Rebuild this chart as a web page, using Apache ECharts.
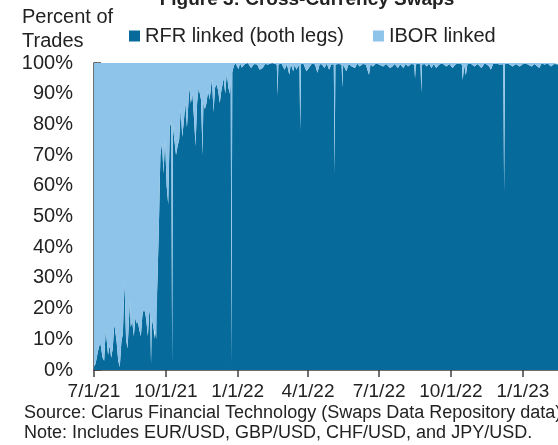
<!DOCTYPE html>
<html>
<head>
<meta charset="utf-8">
<script src="https://cdn.jsdelivr.net/npm/echarts@6/dist/echarts.min.js"></script>
<style>
html,body{margin:0;padding:0;background:#fff;}
#chart{width:558px;height:445px;}
</style>
</head>
<body>
<div id="chart"></div>
<script>
// ---- data ----
const dates = [
'2021-07-01','2021-07-03','2021-07-06','2021-07-09','2021-07-12','2021-07-14','2021-07-16','2021-07-19','2021-07-21','2021-07-23',
'2021-07-25','2021-07-27','2021-07-30','2021-08-01','2021-08-03','2021-08-05','2021-08-07','2021-08-09','2021-08-11','2021-08-13',
'2021-08-16','2021-08-17','2021-08-19','2021-08-21','2021-08-23','2021-08-25','2021-08-26','2021-08-28','2021-08-30','2021-09-01',
'2021-09-03','2021-09-05','2021-09-06','2021-09-08','2021-09-10','2021-09-11','2021-09-12','2021-09-13','2021-09-15','2021-09-17',
'2021-09-19','2021-09-20','2021-09-22','2021-09-24','2021-09-26','2021-09-28','2021-09-30','2021-10-02','2021-10-04','2021-10-06',
'2021-10-08','2021-10-09','2021-10-10','2021-10-11','2021-10-14','2021-10-16','2021-10-18','2021-10-20','2021-10-22','2021-10-24',
'2021-10-26','2021-10-28','2021-10-31','2021-11-02','2021-11-04','2021-11-06','2021-11-08','2021-11-10','2021-11-12','2021-11-15',
'2021-11-17','2021-11-18','2021-11-20','2021-11-22','2021-11-24','2021-11-26','2021-11-29','2021-12-01','2021-12-03','2021-12-05',
'2021-12-07','2021-12-09','2021-12-11','2021-12-14','2021-12-16','2021-12-18','2021-12-20','2021-12-22','2021-12-23','2021-12-24',
'2021-12-25','2021-12-27','2021-12-29','2022-01-02','2022-01-04','2022-01-06',
'2022-01-10','2022-01-14','2022-01-18','2022-01-22','2022-01-26','2022-01-29','2022-02-02','2022-02-05','2022-02-09','2022-02-14',
'2022-02-20','2022-02-21','2022-02-22','2022-02-26','2022-03-02','2022-03-05','2022-03-08','2022-03-10','2022-03-13','2022-03-15',
'2022-03-17','2022-03-21','2022-03-22','2022-03-23','2022-03-26','2022-03-30','2022-04-02','2022-04-06','2022-04-10','2022-04-13',
'2022-04-16','2022-04-19','2022-04-22','2022-04-25','2022-04-28','2022-05-01','2022-05-04','2022-05-05','2022-05-06','2022-05-10',
'2022-05-14','2022-05-15','2022-05-16','2022-05-20','2022-05-23','2022-05-27','2022-05-31','2022-06-03','2022-06-06','2022-06-10',
'2022-06-14','2022-06-18','2022-06-20','2022-06-23','2022-06-27','2022-07-01','2022-07-06','2022-07-10','2022-07-15','2022-07-18',
'2022-07-21','2022-07-25','2022-07-28','2022-08-01','2022-08-04','2022-08-07','2022-08-11','2022-08-15','2022-08-16','2022-08-17',
'2022-08-20','2022-08-23','2022-08-24','2022-08-25','2022-08-28','2022-08-31','2022-09-03','2022-09-06','2022-09-09','2022-09-12',
'2022-09-16','2022-09-20','2022-09-25','2022-09-29','2022-10-03','2022-10-07','2022-10-11','2022-10-15','2022-10-16','2022-10-18',
'2022-10-20','2022-10-22','2022-10-26','2022-10-31','2022-11-04','2022-11-09','2022-11-13','2022-11-16','2022-11-19','2022-11-21',
'2022-11-24','2022-11-28','2022-12-02','2022-12-07','2022-12-08','2022-12-09','2022-12-13','2022-12-19','2022-12-23','2022-12-28',
'2023-01-02','2023-01-07','2023-01-12','2023-01-16','2023-01-22','2023-01-25','2023-01-29','2023-02-02','2023-02-06','2023-02-10',
'2023-02-15'
];
const rfrLinked = [
1,2,6,9,4,3,13,5,8,4,
7,15,9,3,1,9,12,29,10,7,
23,14,16,11,17,15,16,13,11,18,
20,18,16,11,20,17,2,17,14,10,
10,27,46,70,74,64,75,60,54,79,
81,2,80,77,70,73,75,85,76,81,
87,79,92,87,90,82,73,87,92,88,
70,87,85,87,91,88,95,84,92,93,
91,87,91,95,90,97,92,90,95,2,
97,99,100,98,100,98.5,
99.6,100,98.4,99.7,99.5,97.8,98.4,99.7,99.5,100,
99.5,89.5,99.5,99.8,97.8,99.6,96.2,99.7,97.3,99.5,
97.8,99.6,78,99.6,99.8,97.3,98.4,99.8,99.5,96.8,
99.7,99.5,98.4,99.8,97.8,99.6,99.5,64,99.5,99.7,
99.5,92,99.5,97.3,99.7,98.9,98.4,99.8,98.9,99.7,
99.5,96.2,99.6,98.9,99.8,99.5,98.9,99.7,98.4,98.9,
99.7,98.4,99.6,98.4,99.7,98.9,99.7,99.5,95,99.5,
99.8,99.5,90.5,99.5,99.7,98.9,99.8,98.4,99.7,98.4,
99.5,99.8,98.9,99.7,98.4,99.6,99.8,99.5,94.5,99.3,
96,99.6,99.8,98.9,99.7,98.4,99.8,99.5,98.9,97.8,
99.7,99.8,99.5,99.6,58,99.6,99.8,98.9,99.7,98.9,
99.8,99.6,98.9,99.7,98.4,99.8,99.5,99.8,98.9,99.7,
99.5
];
const iborLinked = [
99,98,94,91,96,97,87,95,92,96,
93,85,91,97,99,91,88,71,90,93,
77,86,84,89,83,85,84,87,89,82,
80,82,84,89,80,83,98,83,86,90,
90,73,54,30,26,36,25,40,46,21,
19,98,20,23,30,27,25,15,24,19,
13,21,8,13,10,18,27,13,8,12,
30,13,15,13,9,12,5,16,8,7,
9,13,9,5,10,3,8,10,5,98,
3,1,0,2,0,1.5,
0.4,0,1.6,0.3,0.5,2.2,1.6,0.3,0.5,0,
0.5,10.5,0.5,0.2,2.2,0.4,3.8,0.3,2.7,0.5,
2.2,0.4,22,0.4,0.2,2.7,1.6,0.2,0.5,3.2,
0.3,0.5,1.6,0.2,2.2,0.4,0.5,36,0.5,0.3,
0.5,8,0.5,2.7,0.3,1.1,1.6,0.2,1.1,0.3,
0.5,3.8,0.4,1.1,0.2,0.5,1.1,0.3,1.6,1.1,
0.3,1.6,0.4,1.6,0.3,1.1,0.3,0.5,5,0.5,
0.2,0.5,9.5,0.5,0.3,1.1,0.2,1.6,0.3,1.6,
0.5,0.2,1.1,0.3,1.6,0.4,0.2,0.5,5.5,0.7,
4,0.4,0.2,1.1,0.3,1.6,0.2,0.5,1.1,2.2,
0.3,0.2,0.5,0.4,42,0.4,0.2,1.1,0.3,1.1,
0.2,0.4,1.1,0.3,1.6,0.2,0.5,0.2,1.1,0.3,
0.5
];
const tickDates = ['2021-07-01','2021-10-01','2022-01-01','2022-04-01','2022-07-01','2022-10-01','2023-01-01'];
const tickLabels = ['7/1/21','10/1/21','1/1/22','4/1/22','7/1/22','10/1/22','1/1/23'];
const seriesNames = ['RFR linked (both legs)','IBOR linked'];
const axisStart = '2021-07-01';
const axisEnd = '2023-02-15';

function ts(s){ const p = s.split('-'); return new Date(+p[0], +p[1]-1, +p[2]).getTime(); }
const tickTs = tickDates.map(ts);

const FONT = 'Liberation Sans, Arial, sans-serif';
const TXT = '#222222';
const DARK = '#066A9B';
const LIGHT = '#8EC4E9';

const chart = echarts.init(document.getElementById('chart'), null, {renderer:'canvas'});
chart.setOption({
  animation: false,
  backgroundColor: '#ffffff',
  textStyle: {fontFamily: FONT},
  grid: {left: 94, right: 0, top: 63, bottom: 75, containLabel: false},
  legend: {
    left: 129, top: 26, padding: 0, icon: 'rect', itemWidth: 11, itemHeight: 11, itemGap: 29,
    textStyle: {fontSize: 20, color: TXT, fontFamily: FONT},
    data: seriesNames
  },
  xAxis: [
    {
      // time scale carrying the data (hidden)
      type: 'time', position: 'bottom',
      min: ts(axisStart), max: ts(axisEnd),
      show: false, splitLine: {show: false}
    },
    {
      // visible date axis with quarterly ticks, same range
      type: 'value', position: 'bottom',
      min: ts(axisStart), max: ts(axisEnd),
      splitLine: {show: false},
      axisLine: {show: true, onZero: false, lineStyle: {color: '#404040', width: 1.5}},
      axisTick: {show: true, inside: false, length: 7, lineStyle: {color: '#404040', width: 1.5}, customValues: tickTs},
      axisLabel: {
        customValues: tickTs, fontSize: 19, color: TXT, fontFamily: FONT, margin: 12,
        formatter: function(v){ const i = tickTs.indexOf(v); return i >= 0 ? tickLabels[i] : ''; }
      }
    }
  ],
  yAxis: {
    type: 'value', min: 0, max: 100, interval: 10,
    splitLine: {show: false},
    axisLine: {show: true, lineStyle: {color: '#404040', width: 1.5}},
    axisTick: {show: true, inside: true, length: 7, lineStyle: {color: '#404040', width: 1.5}},
    axisLabel: {formatter: '{value}%', fontSize: 20, color: TXT, fontFamily: FONT, margin: 21}
  },
  series: [
    {
      name: seriesNames[0], type: 'line', stack: 'total', symbol: 'none', showSymbol: false,
      xAxisIndex: 0, yAxisIndex: 0,
      lineStyle: {width: 0}, itemStyle: {color: DARK}, areaStyle: {color: DARK, opacity: 1},
      data: dates.map((d,i) => [ts(d), rfrLinked[i]])
    },
    {
      name: seriesNames[1], type: 'line', stack: 'total', symbol: 'none', showSymbol: false,
      xAxisIndex: 0, yAxisIndex: 0,
      lineStyle: {width: 0}, itemStyle: {color: LIGHT}, areaStyle: {color: LIGHT, opacity: 1},
      data: dates.map((d,i) => [ts(d), iborLinked[i]])
    }
  ],
  graphic: [
    {type: 'text', x: 307, y: 9, style: {text: 'Figure 3: Cross-Currency Swaps', fontSize: 19, fontWeight: 'bold', fontFamily: FONT, fill: TXT, align: 'center', verticalAlign: 'bottom'}},
    {type: 'text', x: 22, y: 5, style: {text: 'Percent of\nTrades', fontSize: 20, lineHeight: 24, fontFamily: FONT, fill: TXT, align: 'left', verticalAlign: 'top'}},
    {type: 'text', x: 24, y: 413, style: {text: 'Source: Clarus Financial Technology (Swaps Data Repository data)', fontSize: 18, fontFamily: FONT, fill: TXT, align: 'left', verticalAlign: 'middle'}},
    {type: 'text', x: 24, y: 433, style: {text: 'Note: Includes EUR/USD, GBP/USD, CHF/USD, and JPY/USD.', fontSize: 18, fontFamily: FONT, fill: TXT, align: 'left', verticalAlign: 'middle'}}
  ]
});
</script>
</body>
</html>
